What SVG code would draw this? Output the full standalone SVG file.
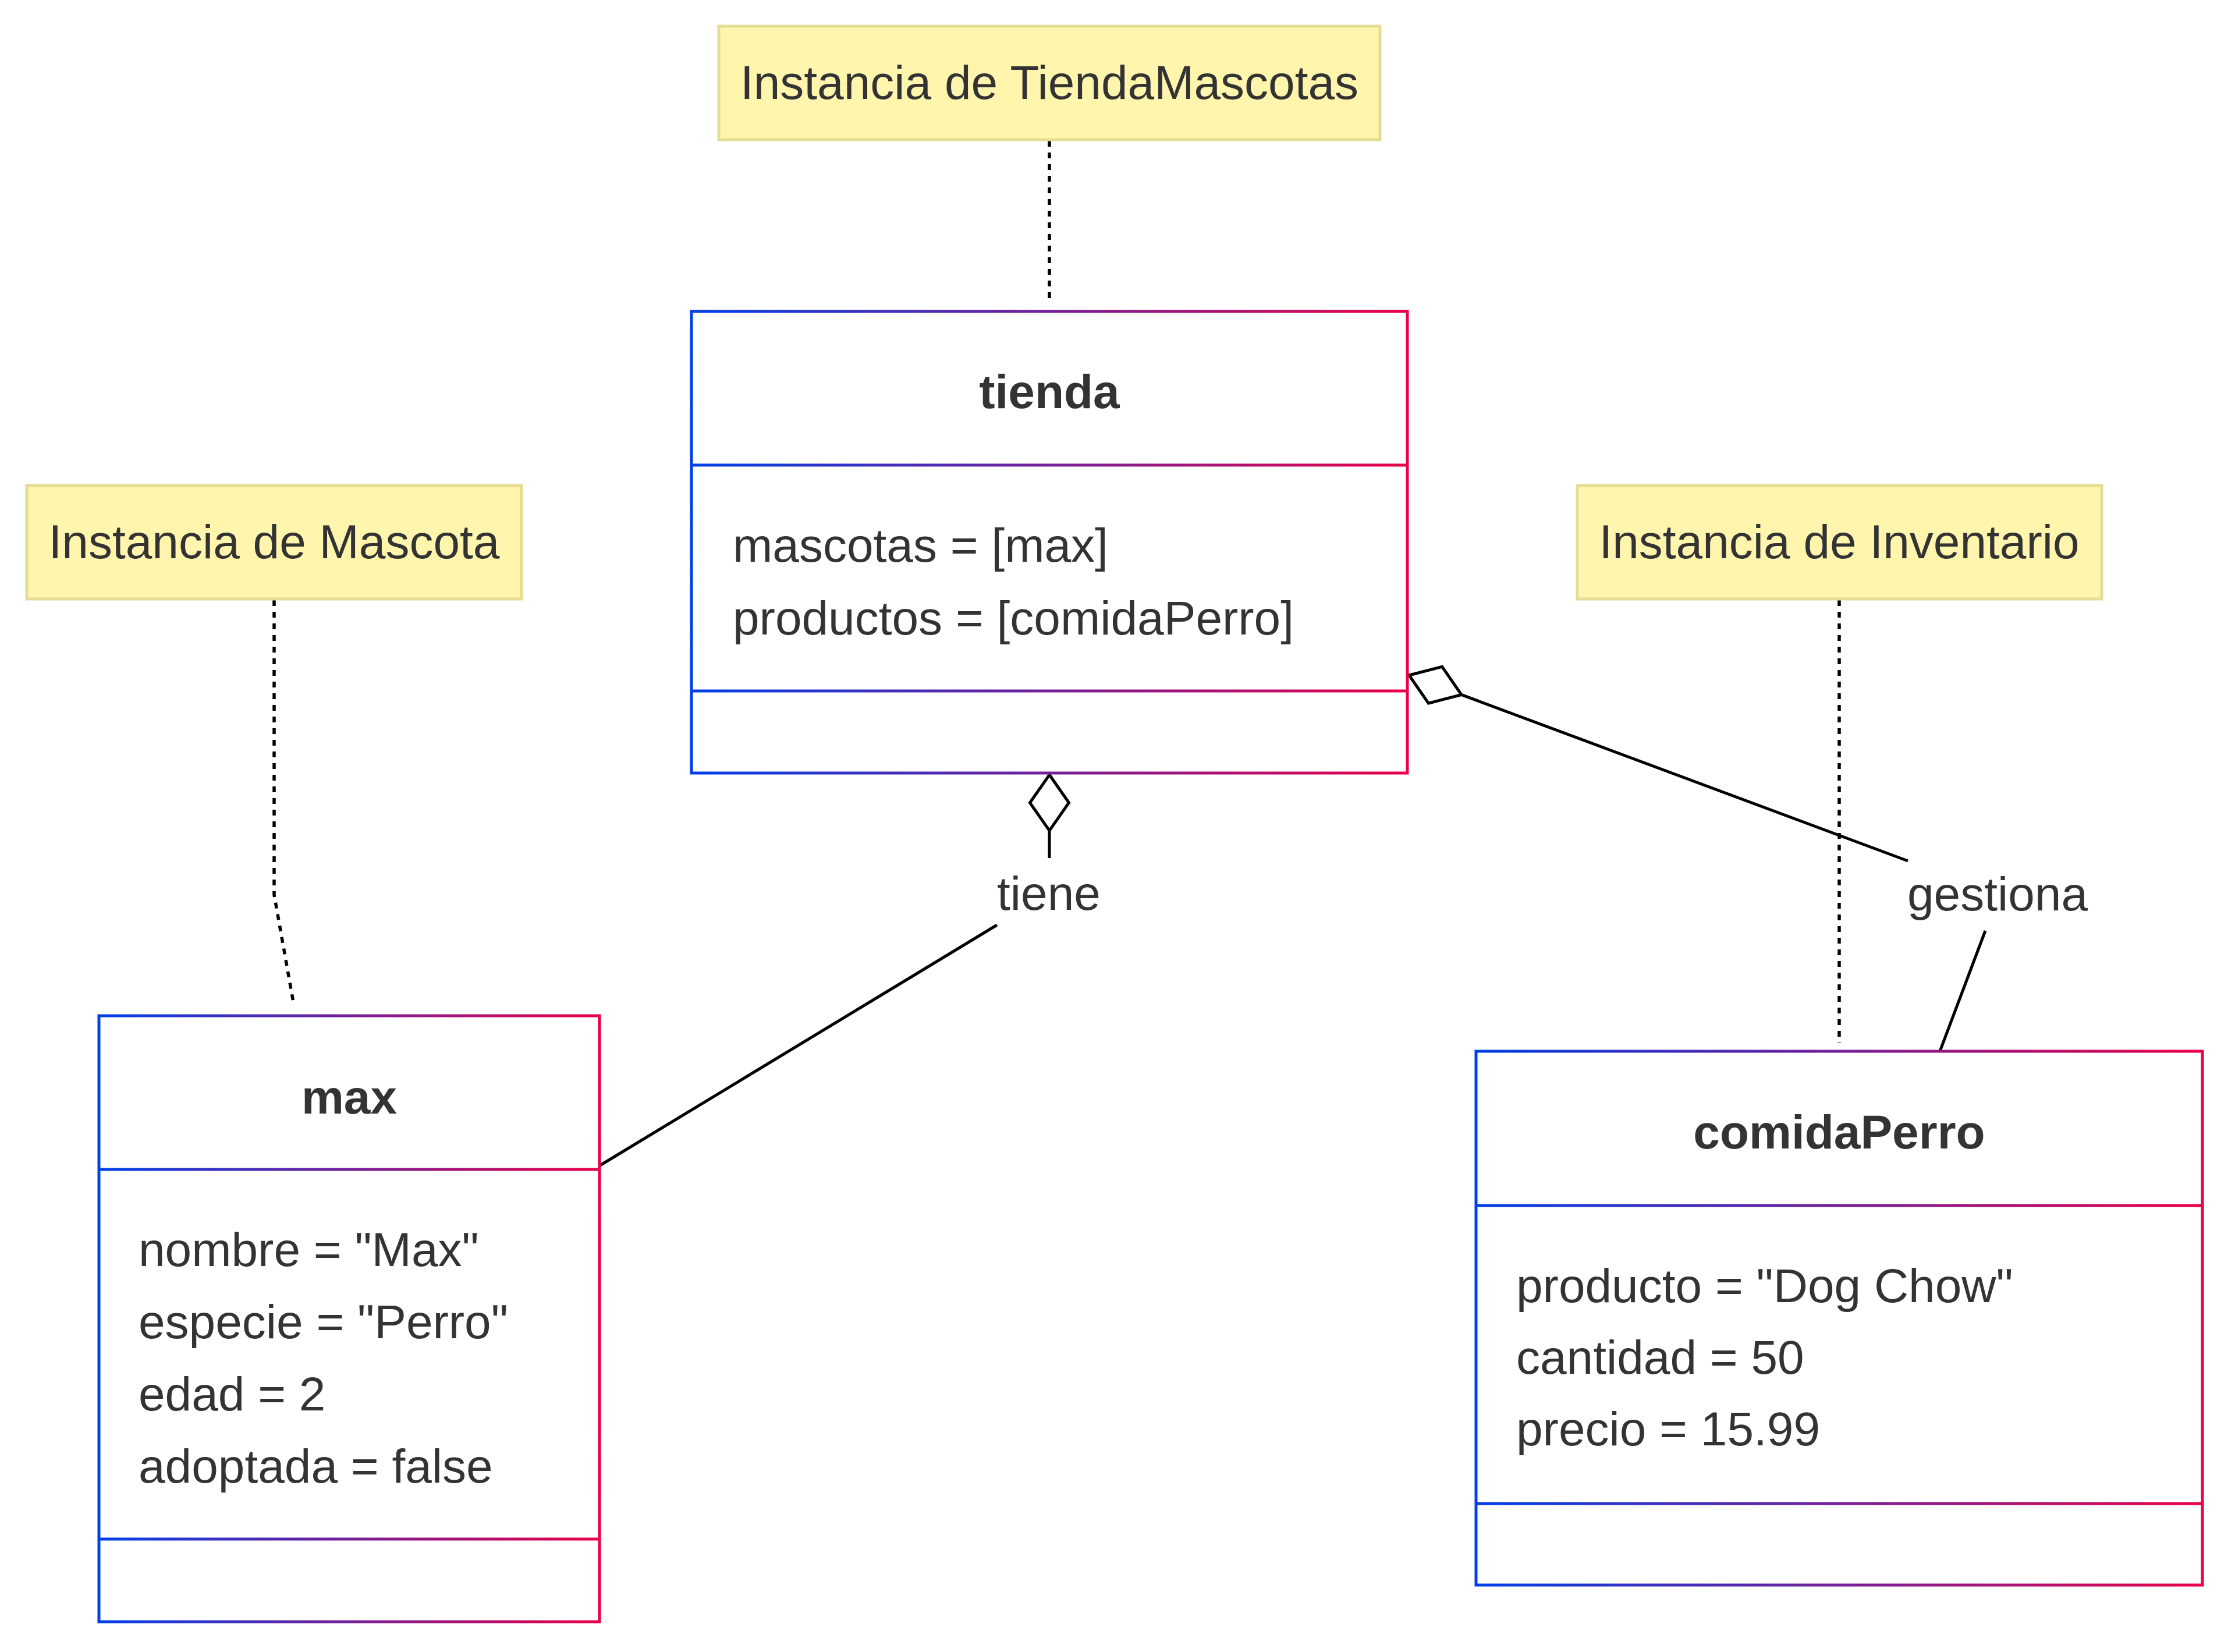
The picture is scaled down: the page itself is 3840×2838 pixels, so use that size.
<svg xmlns="http://www.w3.org/2000/svg" width="3840" height="2838" viewBox="0 0 3840 2838">
<defs>
<style>
.t{font-family:"Liberation Sans",Arial,Helvetica,sans-serif;font-size:82px;fill:#333333}
.b{font-weight:bold}
.m{text-anchor:middle}
.note rect{fill:#fff5ad;stroke:#e5dc94;stroke-width:5}
.edge{fill:none;stroke:#000000;stroke-width:5}
.dot{fill:none;stroke:#000000;stroke-width:5.5;stroke-dasharray:10 10}
.box{fill:#ffffff;stroke-width:5}
</style>
<linearGradient id="gT" gradientUnits="userSpaceOnUse" x1="1188" y1="0" x2="2418" y2="0">
<stop offset="0" stop-color="#0040e8"/><stop offset="1" stop-color="#ea0048"/>
</linearGradient>
<linearGradient id="gM" gradientUnits="userSpaceOnUse" x1="170" y1="0" x2="1030" y2="0">
<stop offset="0" stop-color="#0040e8"/><stop offset="1" stop-color="#ea0048"/>
</linearGradient>
<linearGradient id="gC" gradientUnits="userSpaceOnUse" x1="2536" y1="0" x2="3784" y2="0">
<stop offset="0" stop-color="#0040e8"/><stop offset="1" stop-color="#ea0048"/>
</linearGradient>
<marker id="agg" markerUnits="userSpaceOnUse" markerWidth="104" markerHeight="74" viewBox="0 0 104 74" refX="4" refY="37" orient="auto" overflow="visible">
<path d="M4,37 L52,3.5 L100,37 L52,70.5 Z" fill="#ffffff" stroke="#000000" stroke-width="5"/>
</marker>
</defs>
<rect x="0" y="0" width="3840" height="2838" fill="#ffffff"/>

<g id="connectors">
<path class="dot" d="M1803,242 L1803,512"/>
<path class="dot" d="M471,1031 L471,1537 L504,1722"/>
<path class="dot" d="M3160,1031 L3160,1792"/>
<path class="edge" d="M1803,1331 L1803,1474 M1713,1589 L1031,2002" marker-start="url(#agg)"/>
<path class="edge" d="M2421,1160 L3278,1479 M3411,1599 L3333,1806" marker-start="url(#agg)"/>
<text class="t m" x="1802" y="1563">tiene</text>
<text class="t m" x="3432" y="1564">gestiona</text>
</g>

<g id="note-tiendamascotas" class="note">
<rect x="1235" y="45" width="1136" height="195"/>
<text class="t m" x="1803" y="170">Instancia de TiendaMascotas</text>
</g>

<g id="note-mascota" class="note">
<rect x="46" y="834" width="850" height="195"/>
<text class="t m" x="471" y="959">Instancia de Mascota</text>
</g>

<g id="note-inventario" class="note">
<rect x="2710" y="834" width="901" height="195"/>
<text class="t m" x="3160" y="959">Instancia de Inventario</text>
</g>

<g id="tienda">
<rect class="box" x="1188" y="535" width="1230" height="793" stroke="url(#gT)"/>
<line x1="1188" y1="799" x2="2418" y2="799" stroke="url(#gT)" stroke-width="5"/>
<line x1="1188" y1="1187" x2="2418" y2="1187" stroke="url(#gT)" stroke-width="5"/>
<text class="t b m" x="1803" y="701">tienda</text>
<text class="t" x="1259" y="965">mascotas = [max]</text>
<text class="t" x="1259" y="1090">productos = [comidaPerro]</text>
</g>

<g id="max">
<rect class="box" x="170" y="1745" width="860" height="1041" stroke="url(#gM)"/>
<line x1="170" y1="2009" x2="1030" y2="2009" stroke="url(#gM)" stroke-width="5"/>
<line x1="170" y1="2644" x2="1030" y2="2644" stroke="url(#gM)" stroke-width="5"/>
<text class="t b m" x="600" y="1913">max</text>
<text class="t" x="238" y="2175">nombre = "Max"</text>
<text class="t" x="238" y="2299">especie = "Perro"</text>
<text class="t" x="238" y="2423">edad = 2</text>
<text class="t" x="238" y="2547">adoptada = false</text>
</g>

<g id="comidaPerro">
<rect class="box" x="2536" y="1806" width="1248" height="917" stroke="url(#gC)"/>
<line x1="2536" y1="2071" x2="3784" y2="2071" stroke="url(#gC)" stroke-width="5"/>
<line x1="2536" y1="2583" x2="3784" y2="2583" stroke="url(#gC)" stroke-width="5"/>
<text class="t b m" x="3160" y="1973">comidaPerro</text>
<text class="t" x="2605" y="2237">producto = "Dog Chow"</text>
<text class="t" x="2605" y="2360">cantidad = 50</text>
<text class="t" x="2605" y="2483">precio = 15.99</text>
</g>
</svg>
